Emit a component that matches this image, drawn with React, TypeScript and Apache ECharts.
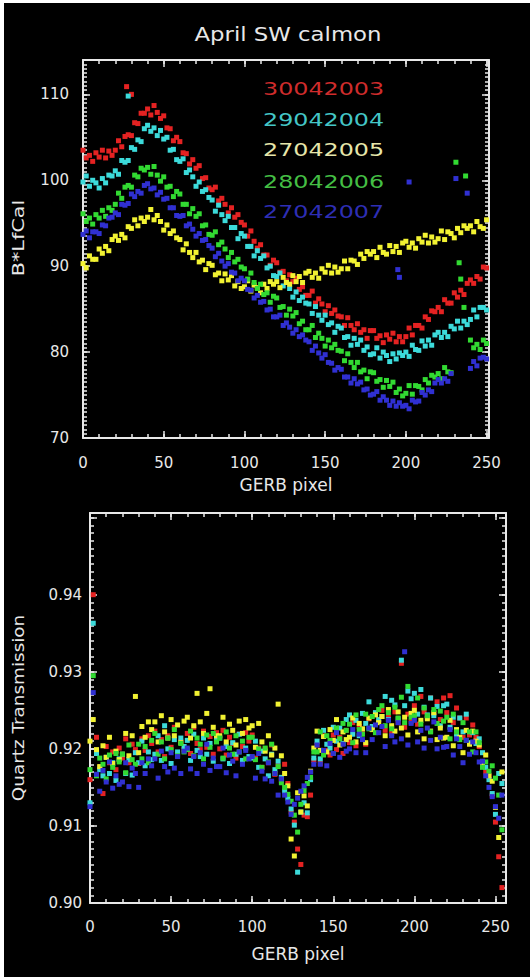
import React, { useEffect, useRef } from 'react';
import * as echarts from 'echarts';

const TITLE = 'April SW calmon';
const LEGEND_LABELS = ['30042003', '29042004', '27042005', '28042006', '27042007'];
const TOP_Y_NAME = 'B*LfCal';
const BOTTOM_Y_NAME = 'Quartz Transmission';
const X_NAME = 'GERB pixel';

// ---------- top panel (B*LfCal vs GERB pixel) ----------
const TOP_PIXELS = [
  0, 2, 4, 6, 8, 10, 12, 14, 16, 18,
  20, 22, 24, 26, 28, 30, 32, 34, 36, 38,
  40, 42, 44, 46, 48, 50, 52, 54, 56, 58,
  60, 62, 64, 66, 68, 70, 72, 74, 76, 78,
  80, 82, 84, 86, 88, 90, 92, 94, 96, 98,
  100, 102, 104, 106, 108, 110, 112, 114, 116, 118,
  120, 122, 124, 126, 128, 130, 132, 134, 136, 138,
  140, 142, 144, 146, 148, 150, 152, 154, 156, 158,
  160, 162, 164, 166, 168, 170, 172, 174, 176, 178,
  180, 182, 184, 186, 188, 190, 192, 194, 196, 198,
  200, 202, 204, 206, 208, 210, 212, 214, 216, 218,
  220, 222, 224, 226, 228, 230, 232, 234, 236, 238,
  240, 242, 244, 246, 248, 250,
];

const RED_TOP = [
  103.5, 102.6, 102.9, 102.2, 103.2, 102.7, 103.5, 102.6, 103.4, 102.9,
  103.5, 104.6, 103.9, 105.1, 105.3, 105.2, 106.7, 106.6, 107.8, 107.8,
  108.3, 107.6, 108.7, 107.9, 107.2, 107.5, 106.1, 106.0, 104.6, 105.0,
  104.5, 103.2, 103.1, 101.9, 102.4, 101.4, 101.7, 100.2, 100.3, 99.1,
  98.9, 99.2, 97.6, 97.9, 97.2, 96.2, 96.8, 95.7, 96.0, 95.1,
  94.8, 93.5, 94.1, 92.9, 92.1, 92.5, 91.3, 91.3, 90.1, 90.7,
  90.4, 89.3, 89.4, 88.3, 89.0, 88.2, 88.6, 87.3, 87.6, 86.6,
  86.6, 87.1, 85.7, 86.2, 85.6, 84.7, 85.4, 84.5, 84.9, 84.2,
  84.1, 83.1, 84.0, 83.1, 82.6, 83.3, 82.3, 82.6, 81.6, 82.5,
  82.5, 81.6, 81.9, 81.1, 82.0, 81.5, 82.2, 81.2, 81.8, 81.2,
  81.8, 82.8, 82.0, 83.1, 83.1, 82.8, 84.1, 83.8, 84.8, 84.7,
  85.2, 84.7, 86.1, 85.7, 85.7, 86.9, 86.4, 87.2, 86.7, 88.0,
  88.4, 88.0, 88.8, 88.5, 89.9, 89.8,
];
const CYAN_TOP = [
  99.8, 100.5, 99.3, 100.0, 99.7, 99.1, 100.2, 99.7, 100.6, 100.5,
  101.1, 100.7, 102.3, 102.1, 102.3, 103.8, 103.6, 104.7, 104.5, 106.0,
  106.4, 105.7, 106.1, 105.2, 105.8, 104.8, 105.0, 103.5, 103.6, 102.4,
  102.2, 102.5, 100.9, 101.2, 100.4, 99.3, 99.8, 98.7, 98.9, 98.0,
  97.7, 96.4, 97.1, 96.0, 95.3, 95.8, 94.5, 94.5, 93.2, 93.8,
  93.5, 92.3, 92.3, 91.2, 91.8, 90.9, 91.2, 89.8, 90.0, 88.9,
  88.8, 89.2, 87.7, 88.1, 87.4, 86.4, 87.0, 86.0, 86.4, 85.7,
  85.6, 84.5, 85.3, 84.3, 83.7, 84.3, 83.2, 83.4, 82.3, 83.0,
  82.8, 81.7, 81.8, 80.8, 81.6, 80.9, 81.4, 80.2, 80.6, 79.7,
  79.8, 80.5, 79.3, 80.0, 79.6, 78.9, 79.8, 79.2, 79.9, 79.6,
  80.0, 79.5, 80.8, 80.3, 80.2, 81.3, 80.7, 81.4, 80.8, 82.0,
  82.3, 81.7, 82.3, 81.8, 83.0, 82.7, 83.6, 82.8, 83.6, 83.2,
  83.8, 84.9, 84.1, 85.2, 85.2, 84.9,
];
const YELLOW_TOP = [
  90.3, 89.8, 91.2, 90.8, 90.8, 92.0, 91.5, 92.3, 91.8, 93.1,
  93.5, 93.0, 93.7, 93.3, 94.6, 94.4, 95.4, 94.7, 95.6, 95.2,
  95.7, 96.6, 95.4, 95.9, 95.2, 94.2, 94.8, 93.8, 94.1, 93.3,
  93.1, 91.9, 92.6, 91.6, 91.0, 91.6, 90.5, 90.7, 89.6, 90.3,
  90.1, 89.0, 89.2, 88.3, 89.1, 88.4, 88.9, 87.7, 88.2, 87.4,
  87.6, 88.3, 87.1, 87.8, 87.5, 86.9, 87.9, 87.4, 88.2, 87.9,
  88.2, 87.5, 88.7, 88.1, 87.9, 88.9, 88.2, 88.8, 88.1, 89.2,
  89.4, 88.7, 89.2, 88.6, 89.7, 89.3, 90.1, 89.2, 89.9, 89.3,
  89.7, 90.6, 89.7, 90.7, 90.6, 90.2, 91.4, 90.9, 91.7, 91.4,
  91.7, 91.0, 92.2, 91.6, 91.4, 92.4, 91.7, 92.3, 91.6, 92.7,
  92.9, 92.2, 92.7, 92.1, 93.2, 92.8, 93.6, 92.7, 93.4, 92.8,
  93.2, 94.1, 93.1, 94.0, 93.8, 93.3, 94.4, 93.9, 94.7, 94.4,
  94.7, 94.0, 95.2, 94.6, 94.4, 95.4,
];
const GREEN_TOP = [
  96.1, 95.2, 95.6, 94.9, 96.0, 95.6, 96.5, 95.8, 96.8, 96.5,
  97.2, 98.5, 97.9, 99.2, 99.4, 99.2, 100.6, 100.4, 101.4, 101.2,
  101.5, 100.7, 101.6, 100.6, 99.9, 100.4, 99.2, 99.3, 98.1, 98.7,
  98.4, 97.2, 97.2, 96.1, 96.7, 95.8, 96.1, 94.7, 94.8, 93.7,
  93.6, 94.0, 92.5, 92.8, 92.0, 91.0, 91.6, 90.5, 90.8, 89.9,
  89.7, 88.5, 89.2, 88.1, 87.4, 87.9, 86.7, 86.9, 85.8, 86.5,
  86.3, 85.2, 85.3, 84.3, 85.0, 84.2, 84.6, 83.3, 83.6, 82.6,
  82.6, 83.1, 81.7, 82.2, 81.6, 80.7, 81.4, 80.5, 80.9, 80.2,
  80.1, 79.0, 79.8, 78.8, 78.2, 78.8, 77.7, 77.9, 76.9, 77.7,
  77.6, 76.6, 76.8, 75.9, 76.7, 76.0, 76.5, 75.3, 75.7, 74.9,
  75.2, 76.1, 75.1, 76.1, 76.0, 75.6, 76.8, 76.4, 77.3, 77.1,
  77.5, 76.9, 78.2, 77.7, 77.6, null, null, null, null, null,
  81.4, 80.5, 80.9, 80.3, 81.4, 81.0,
];
const BLUE_TOP = [
  93.7, 94.1, 93.3, 94.0, 94.0, 93.8, 94.8, 94.7, 95.6, 95.7,
  96.2, 96.0, 97.2, 97.1, 97.3, 98.4, 98.1, 98.7, 98.5, 99.4,
  99.6, 99.0, 99.1, 98.3, 98.6, 97.8, 97.9, 96.8, 96.8, 95.9,
  95.8, 95.9, 94.7, 94.9, 94.3, 93.5, 93.8, 93.0, 93.1, 92.4,
  92.1, 91.1, 91.5, 90.6, 90.0, 90.3, 89.3, 89.2, 88.3, 88.6,
  88.3, 87.3, 87.2, 86.3, 86.6, 85.8, 85.9, 84.9, 85.0, 84.1,
  84.1, 84.3, 83.1, 83.4, 82.9, 82.2, 82.6, 81.8, 82.0, 81.4,
  81.2, 80.2, 80.7, 79.9, 79.3, 79.7, 78.8, 78.7, 77.9, 78.2,
  78.0, 77.1, 77.1, 76.4, 76.9, 76.3, 76.5, 75.6, 75.7, 75.0,
  75.1, 75.4, 74.4, 74.8, 74.4, 73.8, 74.3, 73.7, 74.1, 73.7,
  73.8, 73.4, 74.4, 74.2, 74.3, 75.3, 75.0, 75.6, 75.4, 76.4,
  76.8, 76.4, 76.9, 76.6, 77.5, null, null, null, null, null,
  78.1, 78.9, 78.4, 79.3, 79.4, 79.2,
];
// isolated points [pixel, value]
const RED_TOP_EXTRA = [[27, 110.9], [30, 110.0]];
const CYAN_TOP_EXTRA = [[28, 109.8]];
const YELLOW_TOP_EXTRA: number[][] = [];
const GREEN_TOP_EXTRA = [[231, 102.1], [237, 100.5], [233, 90.4], [234, 88.5], [236, 85.2]];
const BLUE_TOP_EXTRA = [[202, 99.8], [231, 100.2], [238, 98.5], [195, 89.6], [196, 88.7]];

// ---------- bottom panel (Quartz Transmission vs GERB pixel) ----------
const BOTTOM_PIXELS = [
  0, 2, 4, 6, 8, 10, 12, 14, 16, 18,
  20, 22, 24, 26, 28, 30, 32, 34, 36, 38,
  40, 42, 44, 46, 48, 50, 52, 54, 56, 58,
  60, 62, 64, 66, 68, 70, 72, 74, 76, 78,
  80, 82, 84, 86, 88, 90, 92, 94, 96, 98,
  100, 102, 104, 106, 108, 110, 112, 114, 116, 118,
  120, 122, 124, 126, 128, 130, 132, 134, 136, 138,
  140, 142, 144, 146, 148, 150, 152, 154, 156, 158,
  160, 162, 164, 166, 168, 170, 172, 174, 176, 178,
  180, 182, 184, 186, 188, 190, 192, 194, 196, 198,
  200, 202, 204, 206, 208, 210, 212, 214, 216, 218,
  220, 222, 224, 226, 228, 230, 232, 234, 236, 238,
  240, 242, 244, 246, 248, 250, 252, 254,
];
const RED_BOTTOM = [
  0.9160, 0.9400, 0.9215, 0.9176, 0.9142, 0.9203, 0.9182, 0.9196, 0.9173, 0.9201,
  0.9188, 0.9213, 0.9182, 0.9206, 0.9199, 0.9181, 0.9213, 0.9198, 0.9217, 0.9207,
  0.9223, 0.9196, 0.9212, 0.9190, 0.9217, 0.9202, 0.9228, 0.9194, 0.9210, 0.9199,
  0.9220, 0.9194, 0.9228, 0.9207, 0.9199, 0.9223, 0.9202, 0.9216, 0.9193, 0.9221,
  0.9200, 0.9224, 0.9192, 0.9215, 0.9207, 0.9188, 0.9219, 0.9203, 0.9221, 0.9210,
  0.9218, 0.9188, 0.9201, 0.9176, 0.9200, 0.9182, 0.9205, 0.9167, 0.9178, 0.9159,
  0.9180, 0.9155, 0.9118, 0.9105, 0.9070, 0.9050, 0.9114, 0.9112, 0.9140, 0.9185,
  0.9205, 0.9181, 0.9217, 0.9198, 0.9192, 0.9218, 0.9199, 0.9215, 0.9194, 0.9224,
  0.9208, 0.9234, 0.9204, 0.9229, 0.9223, 0.9206, 0.9239, 0.9225, 0.9245, 0.9236,
  0.9250, 0.9224, 0.9241, 0.9220, 0.9248, 0.9234, 0.9311, 0.9228, 0.9245, 0.9235,
  0.9256, 0.9232, 0.9268, 0.9248, 0.9241, 0.9266, 0.9246, 0.9261, 0.9238, 0.9266,
  0.9247, 0.9269, 0.9234, 0.9253, 0.9240, 0.9215, 0.9240, 0.9218, 0.9231, 0.9215,
  0.9203, 0.9182, 0.9170, 0.9165, 0.9140, 0.9105, 0.9060, 0.9020,
];
const CYAN_BOTTOM = [
  0.9130, 0.9363, 0.9194, 0.9173, 0.9165, 0.9189, 0.9168, 0.9182, 0.9159, 0.9187,
  0.9193, 0.9168, 0.9186, 0.9166, 0.9195, 0.9182, 0.9210, 0.9178, 0.9196, 0.9186,
  0.9193, 0.9217, 0.9185, 0.9230, 0.9200, 0.9181, 0.9212, 0.9196, 0.9214, 0.9203,
  0.9211, 0.9185, 0.9219, 0.9198, 0.9190, 0.9214, 0.9193, 0.9207, 0.9184, 0.9212,
  0.9214, 0.9187, 0.9203, 0.9181, 0.9208, 0.9193, 0.9219, 0.9185, 0.9201, 0.9190,
  0.9188, 0.9210, 0.9176, 0.9197, 0.9187, 0.9165, 0.9193, 0.9173, 0.9184, 0.9163,
  0.9145, 0.9136, 0.9122, 0.9101, 0.9040, 0.9118, 0.9130, 0.9117, 0.9160, 0.9188,
  0.9210, 0.9187, 0.9224, 0.9206, 0.9201, 0.9228, 0.9210, 0.9227, 0.9207, 0.9238,
  0.9244, 0.9219, 0.9237, 0.9217, 0.9246, 0.9233, 0.9261, 0.9229, 0.9247, 0.9238,
  0.9242, 0.9268, 0.9238, 0.9263, 0.9257, 0.9239, 0.9315, 0.9256, 0.9275, 0.9265,
  0.9272, 0.9245, 0.9277, 0.9254, 0.9244, 0.9266, 0.9243, 0.9255, 0.9230, 0.9256,
  0.9258, 0.9228, 0.9241, 0.9216, 0.9240, 0.9222, 0.9245, 0.9208, 0.9221, 0.9207,
  0.9213, 0.9195, 0.9176, 0.9160, 0.9142, 0.9115, 0.9168, 0.9155,
];
const YELLOW_BOTTOM = [
  0.9210, 0.9238, 0.9199, 0.9177, 0.9204, 0.9189, 0.9215, 0.9181, 0.9197, 0.9186,
  0.9193, 0.9220, 0.9191, 0.9217, 0.9268, 0.9195, 0.9229, 0.9215, 0.9235, 0.9225,
  0.9235, 0.9209, 0.9243, 0.9222, 0.9214, 0.9238, 0.9217, 0.9231, 0.9208, 0.9236,
  0.9241, 0.9214, 0.9230, 0.9272, 0.9235, 0.9220, 0.9246, 0.9278, 0.9228, 0.9217,
  0.9217, 0.9241, 0.9209, 0.9232, 0.9224, 0.9205, 0.9236, 0.9220, 0.9238, 0.9227,
  0.9230, 0.9202, 0.9233, 0.9209, 0.9197, 0.9217, 0.9192, 0.9201, 0.9258, 0.9191,
  0.9168, 0.9152, 0.9083, 0.9061, 0.9143, 0.9118, 0.9139, 0.9126, 0.9171, 0.9201,
  0.9223, 0.9198, 0.9216, 0.9196, 0.9225, 0.9211, 0.9238, 0.9205, 0.9222, 0.9212,
  0.9215, 0.9240, 0.9209, 0.9233, 0.9226, 0.9208, 0.9240, 0.9225, 0.9244, 0.9234,
  0.9242, 0.9217, 0.9251, 0.9230, 0.9223, 0.9248, 0.9227, 0.9241, 0.9218, 0.9246,
  0.9250, 0.9222, 0.9237, 0.9213, 0.9239, 0.9223, 0.9247, 0.9212, 0.9227, 0.9214,
  0.9215, 0.9237, 0.9204, 0.9225, 0.9215, 0.9195, 0.9224, 0.9206, 0.9223, 0.9210,
  0.9205, 0.9182, 0.9192, 0.9165, 0.9158, 0.9124, 0.9085, 0.9170,
];
const GREEN_BOTTOM = [
  0.9173, 0.9295, 0.9165, 0.9188, 0.9180, 0.9161, 0.9192, 0.9176, 0.9194, 0.9183,
  0.9193, 0.9169, 0.9205, 0.9186, 0.9180, 0.9206, 0.9187, 0.9203, 0.9182, 0.9211,
  0.9220, 0.9193, 0.9209, 0.9187, 0.9214, 0.9199, 0.9225, 0.9191, 0.9207, 0.9196,
  0.9199, 0.9223, 0.9191, 0.9214, 0.9206, 0.9187, 0.9218, 0.9202, 0.9220, 0.9209,
  0.9214, 0.9188, 0.9222, 0.9201, 0.9193, 0.9217, 0.9196, 0.9210, 0.9187, 0.9215,
  0.9215, 0.9186, 0.9200, 0.9176, 0.9201, 0.9183, 0.9206, 0.9168, 0.9177, 0.9156,
  0.9150, 0.9141, 0.9132, 0.9114, 0.9092, 0.9128, 0.9146, 0.9155, 0.9163, 0.9196,
  0.9196, 0.9222, 0.9192, 0.9217, 0.9211, 0.9194, 0.9227, 0.9213, 0.9233, 0.9224,
  0.9232, 0.9208, 0.9244, 0.9225, 0.9219, 0.9245, 0.9226, 0.9242, 0.9221, 0.9251,
  0.9256, 0.9230, 0.9247, 0.9226, 0.9254, 0.9240, 0.9267, 0.9234, 0.9281, 0.9241,
  0.9243, 0.9266, 0.9232, 0.9253, 0.9243, 0.9222, 0.9251, 0.9233, 0.9249, 0.9236,
  0.9241, 0.9213, 0.9245, 0.9222, 0.9212, 0.9234, 0.9211, 0.9222, 0.9196, 0.9222,
  0.9208, 0.9176, 0.9183, 0.9171, 0.9178, 0.9162, 0.9140, 0.9095,
];
const BLUE_BOTTOM = [
  0.9125, 0.9273, 0.9167, 0.9145, 0.9172, 0.9157, 0.9183, 0.9149, 0.9165, 0.9154,
  0.9157, 0.9182, 0.9151, 0.9175, 0.9168, 0.9150, 0.9182, 0.9168, 0.9187, 0.9178,
  0.9187, 0.9162, 0.9197, 0.9177, 0.9170, 0.9195, 0.9175, 0.9190, 0.9168, 0.9197,
  0.9201, 0.9174, 0.9190, 0.9168, 0.9195, 0.9180, 0.9206, 0.9172, 0.9188, 0.9177,
  0.9177, 0.9201, 0.9169, 0.9192, 0.9184, 0.9165, 0.9196, 0.9180, 0.9198, 0.9187,
  0.9190, 0.9162, 0.9194, 0.9171, 0.9161, 0.9182, 0.9158, 0.9168, 0.9140, 0.9161,
  0.9140, 0.9131, 0.9115, 0.9128, 0.9136, 0.9145, 0.9152, 0.9163, 0.9170, 0.9180,
  0.9205, 0.9180, 0.9198, 0.9178, 0.9207, 0.9194, 0.9221, 0.9189, 0.9206, 0.9197,
  0.9200, 0.9225, 0.9195, 0.9219, 0.9212, 0.9195, 0.9227, 0.9212, 0.9231, 0.9221,
  0.9229, 0.9203, 0.9237, 0.9217, 0.9209, 0.9234, 0.9213, 0.9326, 0.9205, 0.9233,
  0.9237, 0.9209, 0.9224, 0.9201, 0.9227, 0.9211, 0.9235, 0.9200, 0.9215, 0.9202,
  0.9203, 0.9225, 0.9192, 0.9213, 0.9203, 0.9182, 0.9211, 0.9193, 0.9209, 0.9195,
  0.9183, 0.9184, 0.9165, 0.9150, 0.9138, 0.9125, 0.9110, 0.9140,
];

// ---------- styling ----------
const COLORS = ['#e42222', '#3cdada', '#f2f232', '#32da32', '#3030d2'];
const LEGEND_COLORS = ['#cf2c2c', '#44c6c6', '#e6e6aa', '#44be44', '#2e2eb4'];
const AX = '#e8e8e8';
const FONT = 'DejaVu Sans';

function valueAxis(
  gridIndex: number,
  position: string,
  min: number,
  max: number,
  interval: number,
  major: boolean,
  extra: any = {}
) {
  return {
    type: 'value',
    gridIndex,
    position,
    min,
    max,
    interval,
    axisLine: { show: major, onZero: false, lineStyle: { color: AX, width: 2 } },
    axisTick: { show: true, inside: true, length: major ? 7 : 4, lineStyle: { color: AX, width: 1.5 } },
    axisLabel: { show: false },
    splitLine: { show: false },
    minorTick: { show: false },
    ...extra,
  };
}

const labelStyle = { show: true, color: AX, fontSize: 15, fontFamily: FONT, showMaxLabel: false };
const nameStyle = { color: AX, fontSize: 17, fontFamily: FONT };

function buildOption() {
  const TOP_X_MAX = 251.5;
  const TOP_Y_MIN = 70;
  const TOP_Y_MAX = 114;
  const BOT_X_MAX = 256.5;
  const BOT_Y_MIN = 0.9;
  const BOT_Y_MAX = 0.9506;

  const xAxis = [
    valueAxis(0, 'bottom', 0, TOP_X_MAX, 50, true, {
      axisLabel: { ...labelStyle, margin: 17 },
      name: X_NAME, nameLocation: 'middle', nameGap: 38, nameTextStyle: nameStyle,
    }),
    valueAxis(0, 'bottom', 0, TOP_X_MAX, 10, false),
    valueAxis(0, 'top', 0, TOP_X_MAX, 50, true),
    valueAxis(0, 'top', 0, TOP_X_MAX, 10, false),
    valueAxis(1, 'bottom', 0, BOT_X_MAX, 50, true, {
      axisLabel: { ...labelStyle, margin: 16 },
      name: X_NAME, nameLocation: 'middle', nameGap: 42, nameTextStyle: nameStyle,
    }),
    valueAxis(1, 'bottom', 0, BOT_X_MAX, 10, false),
    valueAxis(1, 'top', 0, BOT_X_MAX, 50, true),
    valueAxis(1, 'top', 0, BOT_X_MAX, 10, false),
  ];
  const yAxis = [
    valueAxis(0, 'left', TOP_Y_MIN, TOP_Y_MAX, 10, true, {
      axisLabel: { ...labelStyle, margin: 14 },
    }),
    valueAxis(0, 'left', TOP_Y_MIN, TOP_Y_MAX, 0.5, false),
    valueAxis(0, 'right', TOP_Y_MIN, TOP_Y_MAX, 10, true),
    valueAxis(0, 'right', TOP_Y_MIN, TOP_Y_MAX, 0.5, false),
    valueAxis(1, 'left', BOT_Y_MIN, BOT_Y_MAX, 0.01, true, {
      axisLabel: {
        ...labelStyle,
        margin: 8,
        formatter: (v: number) => (v > 0.9495 ? '' : v.toFixed(2)),
      },
    }),
    valueAxis(1, 'left', BOT_Y_MIN, BOT_Y_MAX, 0.001, false),
    valueAxis(1, 'right', BOT_Y_MIN, BOT_Y_MAX, 0.01, true),
    valueAxis(1, 'right', BOT_Y_MIN, BOT_Y_MAX, 0.001, false),
  ];

  const topSets = [RED_TOP, CYAN_TOP, YELLOW_TOP, GREEN_TOP, BLUE_TOP];
  const topExtras = [RED_TOP_EXTRA, CYAN_TOP_EXTRA, YELLOW_TOP_EXTRA, GREEN_TOP_EXTRA, BLUE_TOP_EXTRA];
  const botSets = [RED_BOTTOM, CYAN_BOTTOM, YELLOW_BOTTOM, GREEN_BOTTOM, BLUE_BOTTOM];

  const series: any[] = [];
  topSets.forEach((ys, i) => {
    const pts: any[] = [];
    TOP_PIXELS.forEach((x, j) => {
      if (ys[j] !== null && ys[j] !== undefined) pts.push([x, ys[j]]);
    });
    topExtras[i].forEach((p) => pts.push(p));
    series.push({
      type: 'scatter',
      name: LEGEND_LABELS[i],
      xAxisIndex: 0,
      yAxisIndex: 0,
      symbol: 'rect',
      symbolSize: 5,
      clip: false,
      silent: true,
      itemStyle: { color: COLORS[i], opacity: 1 },
      data: pts,
    });
  });
  botSets.forEach((ys, i) => {
    series.push({
      type: 'scatter',
      name: LEGEND_LABELS[i] + ' T',
      xAxisIndex: 4,
      yAxisIndex: 4,
      symbol: 'rect',
      symbolSize: 5,
      clip: false,
      silent: true,
      itemStyle: { color: COLORS[i], opacity: 1 },
      data: BOTTOM_PIXELS.map((x, j) => [x, ys[j]]),
    });
  });

  const LEGEND_Y = [89, 120, 150.5, 182, 212.5];
  const graphic: any[] = [
    { type: 'rect', silent: true, shape: { x: 0, y: 0, width: 4, height: 977 }, style: { fill: '#ffffff' } },
    { type: 'rect', silent: true, shape: { x: 0, y: 0, width: 530, height: 3 }, style: { fill: '#ffffff' } },
    {
      type: 'text', x: 288, y: 34, scaleX: 1.14, silent: true,
      style: {
        text: TITLE, x: 0, y: 0, fill: AX, font: `20px "${FONT}"`,
        align: 'center', verticalAlign: 'middle', textAlign: 'center', textVerticalAlign: 'middle',
      },
    },
    {
      type: 'text', x: 18.5, y: 238, rotation: Math.PI / 2, scaleX: 1.3, silent: true,
      style: {
        text: TOP_Y_NAME, x: 0, y: 0, fill: AX, font: `16px "${FONT}"`,
        align: 'center', verticalAlign: 'middle', textAlign: 'center', textVerticalAlign: 'middle',
      },
    },
    {
      type: 'text', x: 18.5, y: 708, rotation: Math.PI / 2, scaleX: 1.15, silent: true,
      style: {
        text: BOTTOM_Y_NAME, x: 0, y: 0, fill: AX, font: `16px "${FONT}"`,
        align: 'center', verticalAlign: 'middle', textAlign: 'center', textVerticalAlign: 'middle',
      },
    },
  ];
  LEGEND_LABELS.forEach((t, i) => {
    graphic.push({
      type: 'text', x: 263, y: LEGEND_Y[i], scaleX: 1.4, silent: true,
      style: {
        text: t, x: 0, y: 0, fill: LEGEND_COLORS[i], font: `17px "${FONT}"`,
        align: 'left', verticalAlign: 'middle', textAlign: 'left', textVerticalAlign: 'middle',
      },
    });
  });

  return {
    animation: false,
    backgroundColor: '#000000',
    grid: [
      { left: 83, top: 60, width: 406, height: 378, outerBoundsMode: 'none', containLabel: false },
      { left: 90, top: 513, width: 416, height: 390, outerBoundsMode: 'none', containLabel: false },
    ],
    xAxis,
    yAxis,
    series,
    graphic,
  };
}

export default function App() {
  const ref = useRef<HTMLDivElement>(null);
  useEffect(() => {
    if (!ref.current) return;
    const chart = echarts.init(ref.current, null, { renderer: 'svg' });
    chart.setOption(buildOption() as any);
    return () => chart.dispose();
  }, []);
  return (
    <div
      ref={ref}
      style={{ position: 'absolute', left: 0, top: 0, width: 530, height: 977, background: '#000' }}
    />
  );
}
